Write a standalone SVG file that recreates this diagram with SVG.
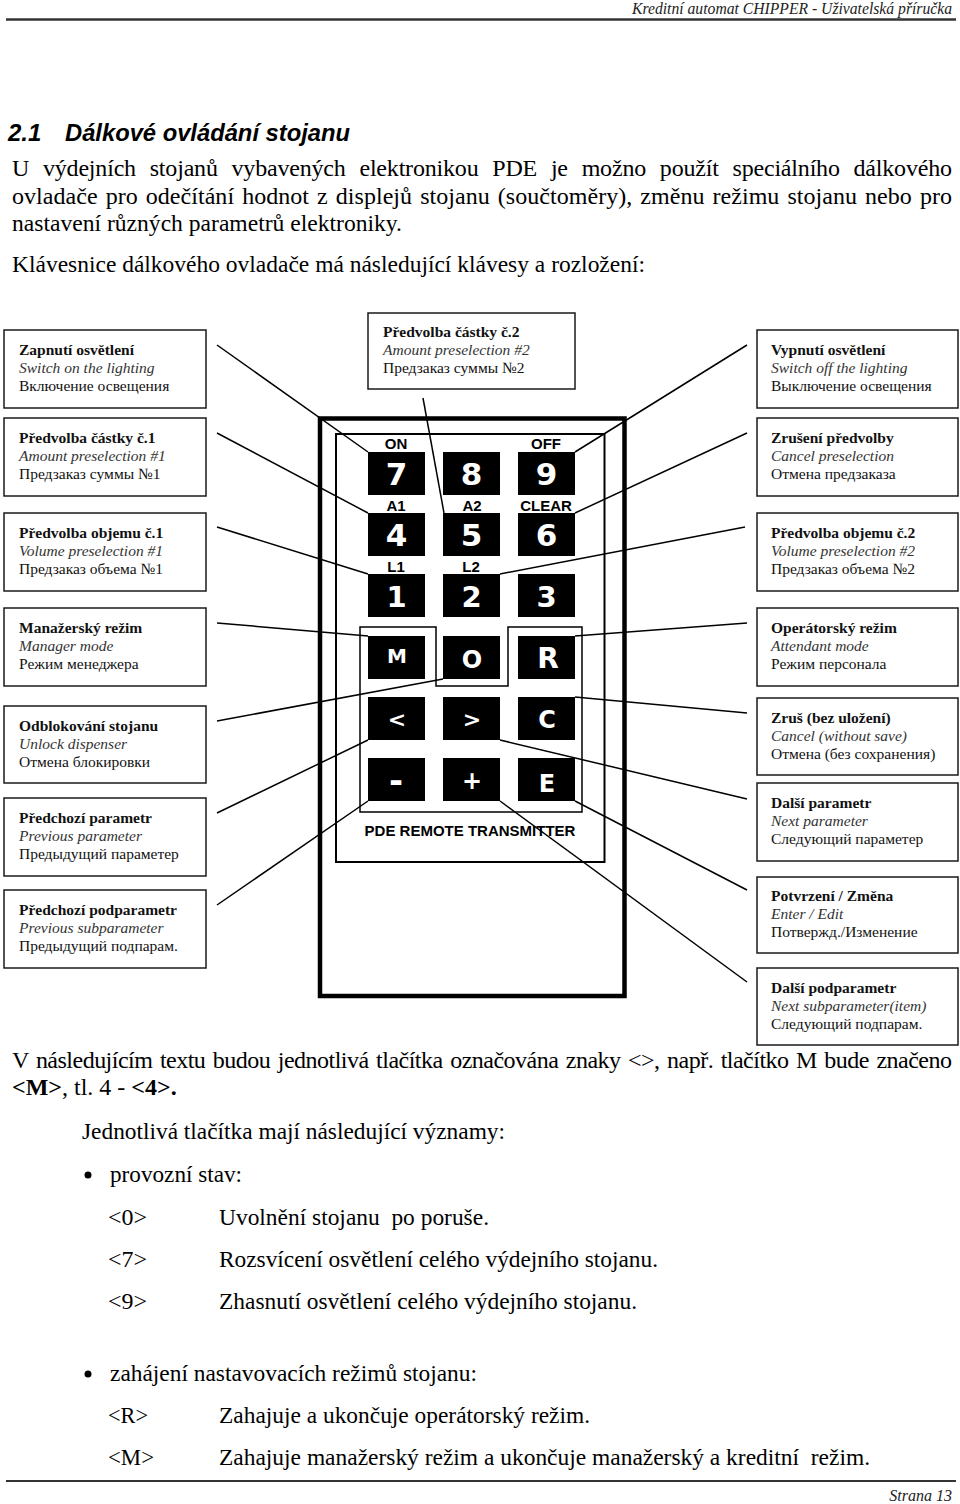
<svg xmlns="http://www.w3.org/2000/svg" width="960" height="1504" viewBox="0 0 960 1504">
<style>
.bx{fill:#fff;stroke:#1a1a1a;stroke-width:1.5}
.t1{font-family:"Liberation Serif",serif;font-weight:bold;font-size:15.5px;fill:#111}
.t2{font-family:"Liberation Serif",serif;font-style:italic;font-size:15.5px;fill:#333}
.t3{font-family:"Liberation Serif",serif;font-size:15.5px;fill:#111}
.key{fill:#000}
.kt{font-family:"DejaVu Sans",sans-serif;font-weight:bold;fill:#fff;text-anchor:middle}
.lbl{font-family:"Liberation Sans",Arial,sans-serif;font-weight:bold;font-size:15px;text-anchor:middle;fill:#000}
.con{stroke:#000;stroke-width:1.5;fill:none}
.body{font-family:"Liberation Serif",serif;font-size:24px;fill:#000}
.hdr{font-family:"Liberation Serif",serif;font-style:italic;font-size:16px;fill:#222}
</style>
<rect width="960" height="1504" fill="#fff"/>

<!-- header -->
<text class="hdr" x="632" y="14" textLength="320" lengthAdjust="spacingAndGlyphs">Kreditní automat CHIPPER - Uživatelská příručka</text>
<line x1="6" y1="19.5" x2="956" y2="19.5" stroke="#333" stroke-width="2.5"/>

<!-- title and intro -->
<text x="8" y="141" font-family="'Liberation Sans',Arial,sans-serif" font-weight="bold" font-style="italic" font-size="24">2.1</text>
<text x="65" y="141" font-family="'Liberation Sans',Arial,sans-serif" font-weight="bold" font-style="italic" font-size="24" textLength="285" lengthAdjust="spacingAndGlyphs">Dálkové ovládání stojanu</text>
<text class="body" x="12" y="176" word-spacing="8" textLength="940" lengthAdjust="spacing">U výdejních stojanů vybavených elektronikou PDE  je možno použít speciálního dálkového</text>
<text class="body" x="12" y="204" word-spacing="2" textLength="940" lengthAdjust="spacing">ovladače pro odečítání hodnot z displejů stojanu (součtoměry), změnu režimu stojanu nebo pro</text>
<text class="body" x="12" y="231" textLength="390" lengthAdjust="spacingAndGlyphs">nastavení různých parametrů elektroniky.</text>
<text class="body" x="12" y="272" textLength="633" lengthAdjust="spacingAndGlyphs">Klávesnice dálkového ovladače má následující klávesy a rozložení:</text>

<!-- remote body -->
<g id="remote">
<rect x="320" y="418.5" width="304.5" height="577.5" fill="none" stroke="#000" stroke-width="4.5"/>
<rect x="336" y="434" width="268.5" height="428" fill="none" stroke="#000" stroke-width="2"/>
<polygon points="360,627 436,627 436,686 508,686 508,627 582,627 582,812 360,812" fill="none" stroke="#000" stroke-width="1.5"/>
<text class="lbl" x="396" y="449">ON</text>
<text class="lbl" x="546" y="449">OFF</text>
<text class="lbl" x="396" y="511">A1</text>
<text class="lbl" x="472" y="511">A2</text>
<text class="lbl" x="546" y="511">CLEAR</text>
<text class="lbl" x="396" y="572">L1</text>
<text class="lbl" x="471" y="572">L2</text>
<text class="lbl" x="470" y="836" font-size="15.5">PDE REMOTE TRANSMITTER</text>
</g>

<!-- keys -->
<g id="key7"><rect class="key" x="368" y="452" width="57" height="43"/><text class="kt" x="396.5" y="485" font-size="31">7</text></g>
<g id="key8"><rect class="key" x="443" y="452" width="57" height="43"/><text class="kt" x="471.5" y="485" font-size="31">8</text></g>
<g id="key9"><rect class="key" x="518" y="452" width="57" height="43"/><text class="kt" x="546.5" y="485" font-size="31">9</text></g>
<g id="key4"><rect class="key" x="368" y="513" width="57" height="43"/><text class="kt" x="396.5" y="546" font-size="31">4</text></g>
<g id="key5"><rect class="key" x="443" y="513" width="57" height="43"/><text class="kt" x="471.5" y="546" font-size="31">5</text></g>
<g id="key6"><rect class="key" x="518" y="513" width="57" height="43"/><text class="kt" x="546.5" y="546" font-size="31">6</text></g>
<g id="key1"><rect class="key" x="368" y="574" width="57" height="43"/><text class="kt" x="396.5" y="607" font-size="29">1</text></g>
<g id="key2"><rect class="key" x="443" y="574" width="57" height="43"/><text class="kt" x="471.5" y="607" font-size="29">2</text></g>
<g id="key3"><rect class="key" x="518" y="574" width="57" height="43"/><text class="kt" x="546.5" y="607" font-size="29">3</text></g>
<g id="keyM"><rect class="key" x="368" y="636" width="57" height="43"/><text class="kt" x="397" y="663" font-size="20">M</text></g>
<g id="key0"><rect class="key" x="443" y="636" width="57" height="43"/><text class="kt" x="472" y="668" font-size="24">O</text></g>
<g id="keyR"><rect class="key" x="518" y="636" width="57" height="43"/><text class="kt" x="548" y="668" font-size="28">R</text></g>
<g id="keyLt"><rect class="key" x="368" y="697" width="57" height="43"/><text class="kt" x="397" y="727" font-size="22">&lt;</text></g>
<g id="keyGt"><rect class="key" x="443" y="697" width="57" height="43"/><text class="kt" x="472" y="727" font-size="22">&gt;</text></g>
<g id="keyC"><rect class="key" x="518" y="697" width="57" height="43"/><text class="kt" x="547" y="728" font-size="24">C</text></g>
<g id="keyMinus"><rect class="key" x="368" y="758" width="57" height="43"/><text class="kt" x="396" y="792" font-size="34">-</text></g>
<g id="keyPlus"><rect class="key" x="443" y="758" width="57" height="43"/><text class="kt" x="472" y="789" font-size="24">+</text></g>
<g id="keyE"><rect class="key" x="518" y="758" width="57" height="43"/><text class="kt" x="547" y="792" font-size="24">E</text></g>

<!-- connectors -->
<g id="connectors">
<line class="con" x1="217" y1="345" x2="368" y2="452"/>
<line class="con" x1="217" y1="433" x2="368" y2="513"/>
<line class="con" x1="217" y1="527" x2="368" y2="574"/>
<line class="con" x1="217" y1="623" x2="368" y2="636"/>
<line class="con" x1="217" y1="721" x2="443" y2="679"/>
<line class="con" x1="217" y1="813" x2="368" y2="740"/>
<line class="con" x1="217" y1="905" x2="368" y2="801"/>
<line class="con" x1="423" y1="398" x2="444" y2="513"/>
<line class="con" x1="747" y1="345" x2="575" y2="452"/>
<line class="con" x1="747" y1="433" x2="575" y2="513"/>
<line class="con" x1="745" y1="527" x2="500" y2="574"/>
<line class="con" x1="747" y1="623" x2="575" y2="636"/>
<line class="con" x1="747" y1="713" x2="575" y2="697"/>
<line class="con" x1="747" y1="799" x2="500" y2="740"/>
<line class="con" x1="747" y1="890" x2="575" y2="801"/>
<line class="con" x1="747" y1="982" x2="500" y2="801"/>
</g>

<!-- left boxes -->
<g id="box-zapnuti"><rect class="bx" x="4" y="330" width="202" height="78"/>
<text class="t1" x="19" y="355">Zapnutí osvětlení</text><text class="t2" x="19" y="373">Switch on the lighting</text><text class="t3" x="19" y="391">Включение освещения</text></g>
<g id="box-castka1"><rect class="bx" x="4" y="418" width="202" height="78"/>
<text class="t1" x="19" y="443">Předvolba částky č.1</text><text class="t2" x="19" y="461">Amount preselection #1</text><text class="t3" x="19" y="479">Предзаказ суммы №1</text></g>
<g id="box-objem1"><rect class="bx" x="4" y="513" width="202" height="78"/>
<text class="t1" x="19" y="538">Předvolba objemu č.1</text><text class="t2" x="19" y="556">Volume preselection #1</text><text class="t3" x="19" y="574">Предзаказ объема №1</text></g>
<g id="box-manazer"><rect class="bx" x="4" y="608" width="202" height="78"/>
<text class="t1" x="19" y="633">Manažerský režim</text><text class="t2" x="19" y="651">Manager mode</text><text class="t3" x="19" y="669">Режим менеджера</text></g>
<g id="box-odblok"><rect class="bx" x="4" y="706" width="202" height="77"/>
<text class="t1" x="19" y="731">Odblokování stojanu</text><text class="t2" x="19" y="749">Unlock dispenser</text><text class="t3" x="19" y="767">Отмена блокировки</text></g>
<g id="box-predparam"><rect class="bx" x="4" y="798" width="202" height="78"/>
<text class="t1" x="19" y="823">Předchozí parametr</text><text class="t2" x="19" y="841">Previous parameter</text><text class="t3" x="19" y="859">Предыдущий параметер</text></g>
<g id="box-predpodparam"><rect class="bx" x="4" y="890" width="202" height="78"/>
<text class="t1" x="19" y="915">Předchozí podparametr</text><text class="t2" x="19" y="933">Previous subparameter</text><text class="t3" x="19" y="951">Предыдущий подпарам.</text></g>

<!-- top box -->
<g id="box-castka2"><rect class="bx" x="368" y="313" width="207" height="76"/>
<text class="t1" x="383" y="337">Předvolba částky č.2</text><text class="t2" x="383" y="355">Amount preselection #2</text><text class="t3" x="383" y="373">Предзаказ суммы №2</text></g>

<!-- right boxes -->
<g id="box-vypnuti"><rect class="bx" x="757" y="330" width="201" height="78"/>
<text class="t1" x="771" y="355">Vypnutí osvětlení</text><text class="t2" x="771" y="373">Switch off the lighting</text><text class="t3" x="771" y="391">Выключение освещения</text></g>
<g id="box-zruseni"><rect class="bx" x="757" y="418" width="201" height="78"/>
<text class="t1" x="771" y="443">Zrušení předvolby</text><text class="t2" x="771" y="461">Cancel preselection</text><text class="t3" x="771" y="479">Отмена предзаказа</text></g>
<g id="box-objem2"><rect class="bx" x="757" y="513" width="201" height="78"/>
<text class="t1" x="771" y="538">Předvolba objemu č.2</text><text class="t2" x="771" y="556">Volume preselection #2</text><text class="t3" x="771" y="574">Предзаказ объема №2</text></g>
<g id="box-operator"><rect class="bx" x="757" y="608" width="201" height="78"/>
<text class="t1" x="771" y="633">Operátorský režim</text><text class="t2" x="771" y="651">Attendant mode</text><text class="t3" x="771" y="669">Режим персонала</text></g>
<g id="box-zrus"><rect class="bx" x="757" y="698" width="201" height="77"/>
<text class="t1" x="771" y="723">Zruš (bez uložení)</text><text class="t2" x="771" y="741">Cancel (without save)</text><text class="t3" x="771" y="759">Отмена (без сохранения)</text></g>
<g id="box-dalsiparam"><rect class="bx" x="757" y="783" width="201" height="78"/>
<text class="t1" x="771" y="808">Další parametr</text><text class="t2" x="771" y="826">Next parameter</text><text class="t3" x="771" y="844">Следующий параметер</text></g>
<g id="box-potvrzeni"><rect class="bx" x="757" y="877" width="201" height="76"/>
<text class="t1" x="771" y="901">Potvrzení / Změna</text><text class="t2" x="771" y="919">Enter / Edit</text><text class="t3" x="771" y="937">Потвержд./Изменение</text></g>
<g id="box-dalsipodparam"><rect class="bx" x="757" y="968" width="201" height="77"/>
<text class="t1" x="771" y="993">Další podparametr</text><text class="t2" x="771" y="1011">Next subparameter(item)</text><text class="t3" x="771" y="1029">Следующий подпарам.</text></g>

<!-- lower text -->
<text class="body" x="12" y="1068" word-spacing="2" textLength="940" lengthAdjust="spacing">V následujícím textu budou jednotlivá tlačítka označována znaky &lt;&gt;, např. tlačítko M bude značeno</text>
<text class="body" x="12" y="1095" font-size="22"><tspan font-weight="bold">&lt;M&gt;</tspan>, tl. 4 - <tspan font-weight="bold">&lt;4&gt;.</tspan></text>
<text class="body" x="82" y="1139" textLength="423" lengthAdjust="spacingAndGlyphs">Jednotlivá tlačítka mají následující významy:</text>
<circle cx="88" cy="1175" r="3.5" fill="#000"/>
<text class="body" x="110" y="1182" textLength="132" lengthAdjust="spacingAndGlyphs">provozní stav:</text>
<text class="body" x="108" y="1225" textLength="39" lengthAdjust="spacingAndGlyphs">&lt;0&gt;</text>
<text class="body" x="219" y="1225" textLength="270" lengthAdjust="spacingAndGlyphs" xml:space="preserve">Uvolnění stojanu  po poruše.</text>
<text class="body" x="108" y="1267" textLength="39" lengthAdjust="spacingAndGlyphs">&lt;7&gt;</text>
<text class="body" x="219" y="1267" textLength="439" lengthAdjust="spacingAndGlyphs">Rozsvícení osvětlení celého výdejního stojanu.</text>
<text class="body" x="108" y="1309" textLength="39" lengthAdjust="spacingAndGlyphs">&lt;9&gt;</text>
<text class="body" x="219" y="1309" textLength="418" lengthAdjust="spacingAndGlyphs">Zhasnutí osvětlení celého výdejního stojanu.</text>
<circle cx="88" cy="1374" r="3.5" fill="#000"/>
<text class="body" x="110" y="1381" textLength="367" lengthAdjust="spacingAndGlyphs">zahájení nastavovacích režimů stojanu:</text>
<text class="body" x="108" y="1423" textLength="40" lengthAdjust="spacingAndGlyphs">&lt;R&gt;</text>
<text class="body" x="219" y="1423" textLength="371" lengthAdjust="spacingAndGlyphs">Zahajuje a ukončuje operátorský režim.</text>
<text class="body" x="108" y="1465" textLength="46" lengthAdjust="spacingAndGlyphs">&lt;M&gt;</text>
<text class="body" x="219" y="1465" textLength="651" lengthAdjust="spacingAndGlyphs" xml:space="preserve">Zahajuje manažerský režim a ukončuje manažerský a kreditní  režim.</text>

<!-- footer -->
<line x1="6" y1="1481" x2="956" y2="1481" stroke="#333" stroke-width="2"/>
<text class="hdr" x="952" y="1501" text-anchor="end">Strana 13</text>
</svg>
